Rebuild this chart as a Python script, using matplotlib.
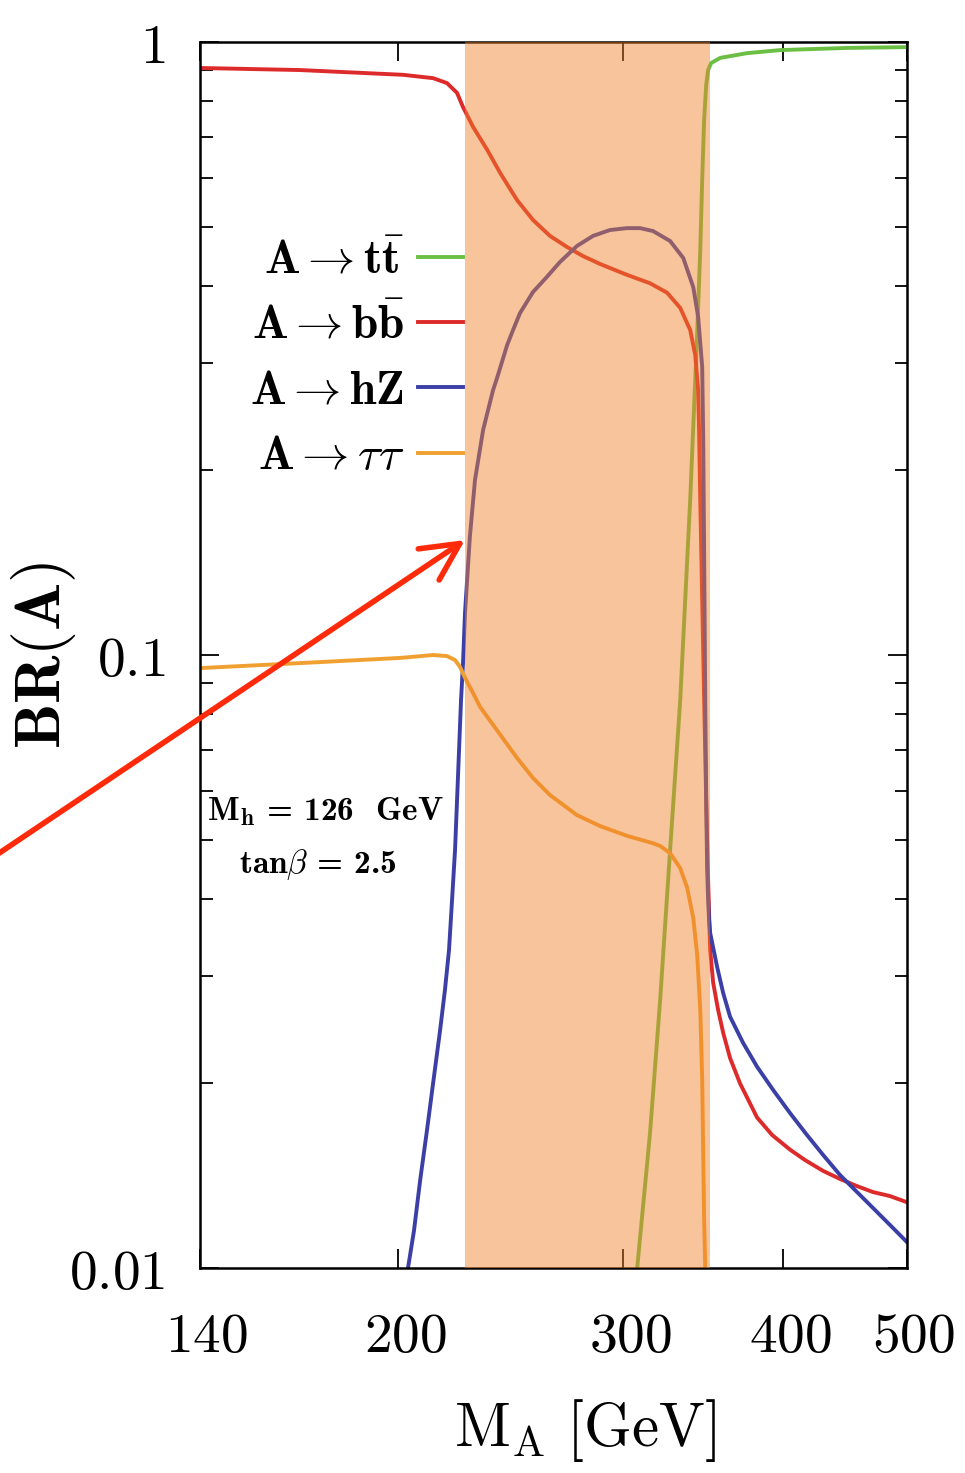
import numpy as np
import matplotlib
matplotlib.use('Agg')
import matplotlib.pyplot as plt
from matplotlib.ticker import FixedLocator, FixedFormatter, NullLocator, LogLocator
from matplotlib.transforms import ScaledTranslation

plt.rcParams['mathtext.fontset'] = 'cm'

# BR(A) vs M_A [GeV]
m_bb = [140, 167.6, 201.8, 213.0, 218.4, 222.4, 224.8, 228.9, 234.8, 240.4, 247.8,
        255.0, 262.9, 271.1, 279.0, 287.7, 302.0, 314.8, 324.6, 332.4, 338.4,
        341.5, 343.3, 343.9, 344.6, 345.8, 347.0, 348.3, 349.5, 350.8, 352.7,
        355.8, 359.1, 363.6, 370.2, 381.7, 392.2, 405.0, 416.1, 429.9, 443.2,
        457.0, 470.3, 485.0, 500]
br_bb = [0.907, 0.900, 0.884, 0.873, 0.857, 0.826, 0.783, 0.727, 0.667, 0.611, 0.552,
         0.5124, 0.4827, 0.463, 0.4475, 0.4344, 0.417, 0.404, 0.390, 0.3683, 0.339,
         0.3086, 0.2705, 0.230, 0.179, 0.123, 0.0845, 0.058, 0.043, 0.0330, 0.0292,
         0.0264, 0.0242, 0.0220, 0.0200, 0.0176, 0.01648, 0.0156, 0.0150, 0.0144, 0.01397,
         0.0136, 0.0133, 0.0131, 0.0128]

m_hz = [200.0, 203.6, 205.8, 208.1, 210.7, 213.0, 215.7, 217.6, 219.2, 220.4, 221.6,
        222.4, 223.2, 224.0, 224.8, 225.6, 227.6, 229.7, 233.1, 237.3, 239.0,
        243.4, 246.0, 249.1, 255.0, 261.5, 267.7, 276.0, 284.1, 292.9, 302.0,
        309.2, 316.5, 326.4, 334.2, 340.3, 343.3, 345.8, 346.4, 347.0, 347.7,
        348.3, 348.9, 349.5, 350.1, 350.8, 355.2, 359.1, 363.6, 372.2, 381.7,
        392.9, 405.0, 417.6, 429.9, 443.2, 457.0, 470.3, 485.0, 500]
br_hz = [0.008, 0.0100, 0.0115, 0.0139, 0.0168, 0.0200, 0.0244, 0.0284, 0.0330, 0.0398, 0.0481,
         0.0580, 0.0700, 0.0845, 0.097, 0.117, 0.156, 0.193, 0.233, 0.2705, 0.283,
         0.3204, 0.339, 0.3613, 0.391, 0.414, 0.4377, 0.4648, 0.4827, 0.4935, 0.497,
         0.497, 0.4916, 0.4735, 0.4443, 0.398, 0.356, 0.295, 0.230, 0.148, 0.0845,
         0.058, 0.0446, 0.0400, 0.0370, 0.0352, 0.0310, 0.0281, 0.0257, 0.0233, 0.0213,
         0.01952, 0.0179, 0.01648, 0.01529, 0.01418, 0.0133, 0.01253, 0.01175, 0.01102]

m_tautau = [140, 167.6, 200.7, 213.0, 218.4, 221.6, 223.6, 225.6, 228.9, 231.8, 240.4,
            247.8, 255.0, 262.9, 276.0, 287.7, 302.0, 316.5, 320.6, 326.4, 332.4,
            336.6, 340.3, 342.7, 344.6, 345.8, 346.4, 347.0, 347.7, 348.3]
br_tautau = [0.0952, 0.0970, 0.0989, 0.100, 0.0996, 0.0981, 0.0956, 0.0918, 0.0867, 0.0823, 0.0741,
             0.0679, 0.0630, 0.0591, 0.0548, 0.0526, 0.0507, 0.0493, 0.0488, 0.0475, 0.0449,
             0.0417, 0.0372, 0.0324, 0.0264, 0.0203, 0.0156, 0.0120, 0.0100, 0.008]

m_tt = [305.0, 307.6, 314.8, 320.6, 326.4, 332.4, 338.4, 342.7, 344.6, 345.8, 347.0,
        348.3, 349.5, 351.4, 357.2, 374.9, 397.9, 448.8, 500]
br_tt = [0.008, 0.0100, 0.0166, 0.0274, 0.0481, 0.0845, 0.179, 0.335, 0.458, 0.596, 0.746,
         0.851, 0.900, 0.924, 0.942, 0.959, 0.970, 0.978, 0.981]

band = (225.6, 350.8)
x_ticks = [140, 200, 300, 400, 500]
x_labels = [r'$140$', r'$200$', r'$300$', r'$400$', r'$500$']
y_ticks = [0.01, 0.1, 1]
y_labels = [r'$0.01$', r'$0.1$', r'$1$']
arrow_tip = (225.6, 0.154)

fig = plt.figure(figsize=(9.65, 14.73), dpi=100)
ax = fig.add_axes([0.20725, 0.13918, 0.73264, 0.83231])

lw = 2.8
ax.plot(m_tt, br_tt, color='#6cbf45', lw=lw, label=r'$\mathbf{A}\rightarrow\mathbf{t\bar{t}}$')
ax.plot(m_bb, br_bb, color='#dd2a2a', lw=lw, label=r'$\mathbf{A}\rightarrow\mathbf{b\bar{b}}$')
ax.plot(m_hz, br_hz, color='#3b3fa6', lw=lw, label=r'$\mathbf{A}\rightarrow\mathbf{hZ}$')
ax.plot(m_tautau, br_tautau, color='#f0a030', lw=lw, label=r'$\mathbf{A}\rightarrow\tau\tau$')

ax.axvspan(band[0], band[1], color=(240/255, 130/255, 44/255), alpha=0.47, lw=0, zorder=5)

ax.set_xscale('log')
ax.set_yscale('log')
ax.set_xlim(140, 500)
ax.set_ylim(0.01, 1)

ax.xaxis.set_major_locator(FixedLocator(x_ticks))
ax.xaxis.set_major_formatter(FixedFormatter(x_labels))
ax.xaxis.set_minor_locator(NullLocator())
ax.yaxis.set_major_locator(FixedLocator(y_ticks))
ax.yaxis.set_major_formatter(FixedFormatter(y_labels))
ax.yaxis.set_minor_locator(LogLocator(base=10, subs=np.arange(2, 10)))
ax.yaxis.set_minor_formatter(FixedFormatter([]))

ax.tick_params(which='both', direction='in', top=True, right=True, width=1.3)
ax.tick_params(which='major', length=14, labelsize=40)
ax.tick_params(which='minor', length=9)
ax.tick_params(axis='x', which='major', pad=30)
ax.tick_params(axis='y', which='major', pad=25)
for s in ax.spines.values():
    s.set_linewidth(1.8)

# labels of the x ticks sit a little to the right of the ticks
shift = ScaledTranslation(0.07, 0, fig.dpi_scale_trans)
for lab in ax.get_xticklabels():
    lab.set_transform(lab.get_transform() + shift)

ax.set_xlabel(r'$\mathrm{M_A\ [GeV]}$', fontsize=44)
ax.xaxis.set_label_coords(0.545, -0.105)
ax.set_ylabel(r'$\mathbf{BR(A)}$', fontsize=46)
ax.yaxis.set_label_coords(-0.172, 0.5)

ax.legend(loc='upper right', bbox_to_anchor=(0.372, 0.840), frameon=False,
          markerfirst=False, fontsize=34, handlelength=0.95, handletextpad=0.3,
          labelspacing=0.43, borderpad=0, borderaxespad=0)

ax.text(0.177, 0.372, r'M$_\mathbf{h}$ = 126  GeV', transform=ax.transAxes,
        ha='center', va='center', fontsize=24, family='cmb10')
ax.text(0.167, 0.329, r'tan$\beta$ = 2.5', transform=ax.transAxes,
        ha='center', va='center', fontsize=24, family='cmb10')

ax.annotate('', xy=arrow_tip, xycoords='data', xytext=(-0.005, 0.419),
            textcoords='figure fraction',
            arrowprops=dict(arrowstyle='->,head_length=0.9,head_width=0.45',
                            color='#ff2a0a', lw=4, mutation_scale=30,
                            shrinkA=0, shrinkB=0),
            zorder=10, annotation_clip=False)

fig.savefig('out.png', dpi=100)
